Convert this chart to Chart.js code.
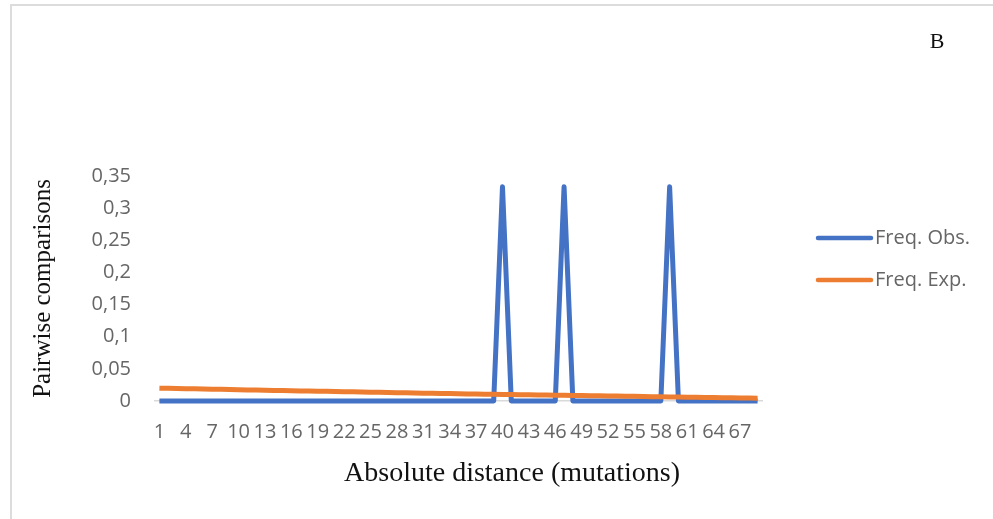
<!DOCTYPE html>
<html>
<head>
<meta charset="utf-8">
<title>Mismatch distribution B</title>
<script src="https://cdn.jsdelivr.net/npm/chart.js@4.4.1/dist/chart.umd.min.js"></script>
<style>
  html, body { margin: 0; padding: 0; background: #fff; overflow: hidden; }
  #wrap { position: relative; width: 993px; height: 519px; }
  #frame {
    position: absolute; left: 10px; top: 4px; width: 1100px; height: 600px;
    border-left: 2px solid #dcdcdc; border-top: 2px solid #dcdcdc;
  }
  canvas { position: absolute; left: 0; top: 0; }
</style>
</head>
<body>
<div id="wrap">
  <div id="frame"></div>
  <canvas id="mismatchChart" width="993" height="519"></canvas>
</div>
<script>
// pairwise differences 1..69
const distances = Array.from({ length: 69 }, (_, i) => String(i + 1));

// observed frequency: three peaks, zero elsewhere
const freqObs = [
  0, 0, 0, 0, 0, 0, 0, 0, 0, 0,
  0, 0, 0, 0, 0, 0, 0, 0, 0, 0,
  0, 0, 0, 0, 0, 0, 0, 0, 0, 0,
  0, 0, 0, 0, 0, 0, 0, 0, 0, 0.3333,
  0, 0, 0, 0, 0, 0, 0.3333, 0, 0, 0,
  0, 0, 0, 0, 0, 0, 0, 0, 0.3333, 0,
  0, 0, 0, 0, 0, 0, 0, 0, 0
];

// expected frequency under the model
const freqExp = [
  0.0200, 0.0197, 0.0194, 0.0192, 0.0189, 0.0186, 0.0183, 0.0181, 0.0178, 0.0175,
  0.0173, 0.0170, 0.0167, 0.0165, 0.0162, 0.0160, 0.0157, 0.0155, 0.0152, 0.0150,
  0.0147, 0.0145, 0.0142, 0.0140, 0.0137, 0.0135, 0.0132, 0.0130, 0.0127, 0.0125,
  0.0122, 0.0120, 0.0117, 0.0115, 0.0112, 0.0110, 0.0108, 0.0106, 0.0104, 0.0102,
  0.0100, 0.0098, 0.0096, 0.0094, 0.0092, 0.0090, 0.0088, 0.0086, 0.0084, 0.0082,
  0.0080, 0.0078, 0.0076, 0.0074, 0.0072, 0.0070, 0.0068, 0.0066, 0.0064, 0.0062,
  0.0060, 0.0058, 0.0056, 0.0054, 0.0052, 0.0050, 0.0048, 0.0046, 0.0044
];

const yTicks = [0, 0.05, 0.1, 0.15, 0.2, 0.25, 0.3, 0.35];

const tickColor = '#666666';
const tickFont = { family: "'Open Sans', sans-serif", size: 20 };

// legend, panel letter and x caption drawn on top of the chart
const extras = {
  id: 'extras',
  afterDraw(chart) {
    const ctx = chart.ctx;
    ctx.save();

    chart.data.datasets.forEach((ds, i) => {
      const y = 238 + i * 42;
      ctx.strokeStyle = ds.borderColor;
      ctx.lineWidth = 4.5;
      ctx.lineCap = 'round';
      ctx.beginPath();
      ctx.moveTo(818, y);
      ctx.lineTo(871, y);
      ctx.stroke();
      ctx.fillStyle = tickColor;
      ctx.font = "20px 'Open Sans', sans-serif";
      ctx.textAlign = 'left';
      ctx.textBaseline = 'middle';
      ctx.fillText(ds.label, 875, y);
    });

    ctx.fillStyle = '#111';
    ctx.textAlign = 'center';
    ctx.textBaseline = 'middle';
    ctx.font = "22px 'Liberation Serif', serif";
    ctx.fillText('B', 937, 42);

    ctx.font = "28px 'Liberation Serif', serif";
    ctx.fillText('Absolute distance (mutations)', 512, 474);

    ctx.restore();
  }
};

new Chart(document.getElementById('mismatchChart'), {
  type: 'line',
  data: {
    labels: distances,
    datasets: [{
      label: 'Freq. Obs.',
      data: freqObs,
      borderColor: '#4472C4',
      borderWidth: 5,
      borderJoinStyle: 'round',
      pointRadius: 0,
      tension: 0,
      clip: 10,
      order: 1
    }, {
      label: 'Freq. Exp.',
      data: freqExp,
      borderColor: '#ED7D31',
      borderWidth: 5,
      borderJoinStyle: 'round',
      pointRadius: 0,
      tension: 0,
      clip: 10,
      order: 0
    }]
  },
  options: {
    responsive: false,
    animation: false,
    layout: { padding: { left: 0, top: 176, right: 231, bottom: 0 } },
    plugins: {
      legend: { display: false },
      tooltip: { enabled: false }
    },
    scales: {
      x: {
        offset: true,
        grid: { display: false, drawTicks: false },
        border: { display: true, color: '#d9d9d9', width: 1.5 },
        ticks: {
          color: tickColor,
          font: tickFont,
          padding: 19,
          autoSkip: false,
          maxRotation: 0,
          callback: (v, i) => (i % 3 === 0 ? distances[i] : '')
        },
        afterFit: s => { s.height = 118; }
      },
      y: {
        min: 0,
        max: 0.35,
        afterBuildTicks: s => { s.ticks = yTicks.map(v => ({ value: v })); },
        grid: { display: false, drawTicks: false },
        border: { display: false },
        ticks: {
          color: tickColor,
          font: tickFont,
          padding: 24,
          callback: v => String(Number(v.toFixed(2))).replace('.', ',')
        },
        title: {
          display: true,
          text: 'Pairwise comparisons',
          color: '#111',
          font: { family: "'Liberation Serif', serif", size: 25 },
          padding: { top: 28, bottom: 0 }
        },
        afterFit: s => { s.width = 155; }
      }
    }
  },
  plugins: [extras]
});
</script>
</body>
</html>
